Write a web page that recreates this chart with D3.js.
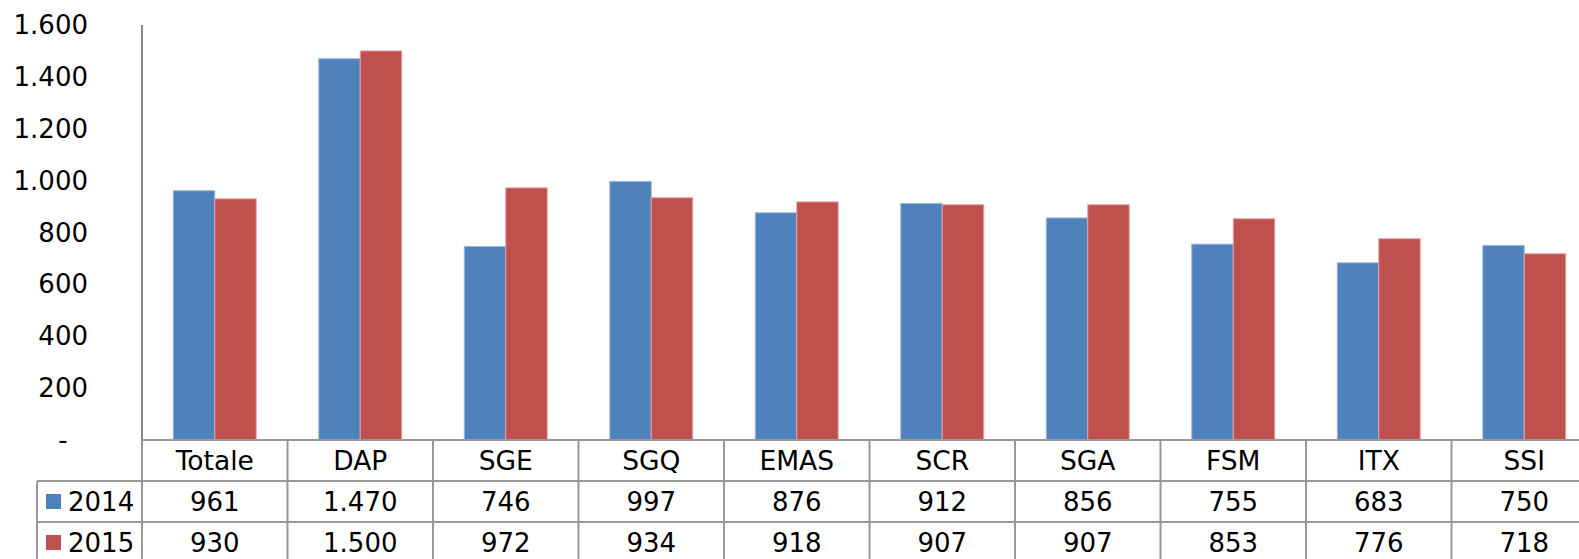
<!DOCTYPE html>
<html>
<head>
<meta http-equiv="Content-Type" content="text/html; charset=UTF-8">
<script src="https://d3js.org/d3.v7.min.js"></script>
<style>
  body { margin: 0; background: #fff; }
  text { font-family: "DejaVu Sans", Verdana, sans-serif; fill: #000; }
</style>
</head>
<body>
<div id="chart"></div>
<script>
// data
var categories = ["Totale", "DAP", "SGE", "SGQ", "EMAS", "SCR", "SGA", "FSM", "ITX", "SSI"];
var seriesNames = ["2014", "2015"];
var values2014 = [961, 1470, 746, 997, 876, 912, 856, 755, 683, 750];
var values2015 = [930, 1500, 972, 934, 918, 907, 907, 853, 776, 718];
var yTicks = [0, 200, 400, 600, 800, 1000, 1200, 1400, 1600];
var colors = ["#4f81bd", "#c0504d"];
var strokes = ["#9ab7dc", "#e3a3a1"];

var seriesValues = [values2014, values2015];

var W = 1579, H = 559;
var plotLeft = 142, plotTop = 25, plotBottom = 440;
var colW = 145.5, rowH = 41;

var it = d3.formatLocale({decimal: ",", thousands: ".", grouping: [3], currency: ["€", ""]});
var fmt = it.format(",d");

var svg = d3.select("#chart").append("svg")
  .attr("width", W)
  .attr("height", H);

var x = d3.scaleBand()
  .domain(categories)
  .range([plotLeft, plotLeft + colW * categories.length]);

var bw = x.bandwidth();
var xs = d3.scaleBand()
  .domain(seriesNames)
  .range([bw * 0.215, bw * 0.785]);

var y = d3.scaleLinear()
  .domain([0, 1600])
  .range([plotBottom, plotTop]);

// y labels
svg.append("g").selectAll("text")
  .data(yTicks)
  .enter().append("text")
    .attr("x", function(d) { return d === 0 ? 63 : 88; })
    .attr("y", function(d) { return y(d); })
    .attr("dy", "0.35em")
    .attr("text-anchor", function(d) { return d === 0 ? "middle" : "end"; })
    .style("font-size", "26px")
    .text(function(d) { return d === 0 ? "-" : fmt(d); });

// bars
var groups = svg.append("g").selectAll("g")
  .data(categories)
  .enter().append("g")
    .attr("transform", function(d) { return "translate(" + x(d) + ",0)"; });

groups.selectAll("rect")
  .data(function(d, i) {
    return seriesNames.map(function(s, j) { return {s: s, j: j, v: seriesValues[j][i]}; });
  })
  .enter().append("rect")
    .attr("x", function(d) { return xs(d.s); })
    .attr("y", function(d) { return y(d.v); })
    .attr("width", xs.bandwidth())
    .attr("height", function(d) { return y(0) - y(d.v); })
    .attr("fill", function(d) { return colors[d.j]; })
    .attr("stroke", function(d) { return strokes[d.j]; })
    .attr("stroke-width", 1);

// y axis line
svg.append("line")
  .attr("x1", plotLeft).attr("x2", plotLeft)
  .attr("y1", plotTop).attr("y2", plotBottom)
  .attr("stroke", "#868686").attr("stroke-width", 2);

// data table
var tbl = svg.append("g").attr("stroke", "#989898").attr("stroke-width", 2);
var plotRight = plotLeft + colW * categories.length;
var tableLeft = 37;

tbl.append("line").attr("x1", plotLeft).attr("x2", plotRight).attr("y1", plotBottom).attr("y2", plotBottom);
tbl.append("line").attr("x1", plotLeft).attr("x2", plotLeft).attr("y1", plotBottom).attr("y2", plotBottom + rowH);
[1, 2, 3].forEach(function(r) {
  tbl.append("line").attr("x1", tableLeft).attr("x2", plotRight)
    .attr("y1", plotBottom + rowH * r).attr("y2", plotBottom + rowH * r);
});
tbl.append("line").attr("x1", tableLeft).attr("x2", tableLeft)
  .attr("y1", plotBottom + rowH).attr("y2", plotBottom + rowH * 3);
categories.forEach(function(c) {
  tbl.append("line").attr("x1", x(c) + bw).attr("x2", x(c) + bw)
    .attr("y1", plotBottom).attr("y2", plotBottom + rowH * 3);
});
tbl.append("line").attr("x1", plotLeft).attr("x2", plotLeft)
  .attr("y1", plotBottom + rowH).attr("y2", plotBottom + rowH * 3);

// header row
svg.append("g").selectAll("text")
  .data(categories)
  .enter().append("text")
    .attr("x", function(d) { return x(d) + bw / 2; })
    .attr("y", plotBottom + rowH / 2)
    .attr("dy", "0.36em")
    .attr("text-anchor", "middle")
    .style("font-size", "26.5px")
    .text(function(d) { return d; });

// value rows
seriesNames.forEach(function(s, j) {
  var cy = plotBottom + rowH * (j + 1) + rowH / 2;
  svg.append("rect")
    .attr("x", 46).attr("y", cy - 7.5)
    .attr("width", 15).attr("height", 15)
    .attr("fill", colors[j]);
  svg.append("text")
    .attr("x", 68).attr("y", cy).attr("dy", "0.36em")
    .style("font-size", "26px")
    .text(s);
  svg.append("g").selectAll("text")
    .data(seriesValues[j])
    .enter().append("text")
      .attr("x", function(d, i) { return x(categories[i]) + bw / 2; })
      .attr("y", cy)
      .attr("dy", "0.36em")
      .attr("text-anchor", "middle")
      .style("font-size", "26px")
      .text(function(d) { return fmt(d); });
});
</script>
</body>
</html>
